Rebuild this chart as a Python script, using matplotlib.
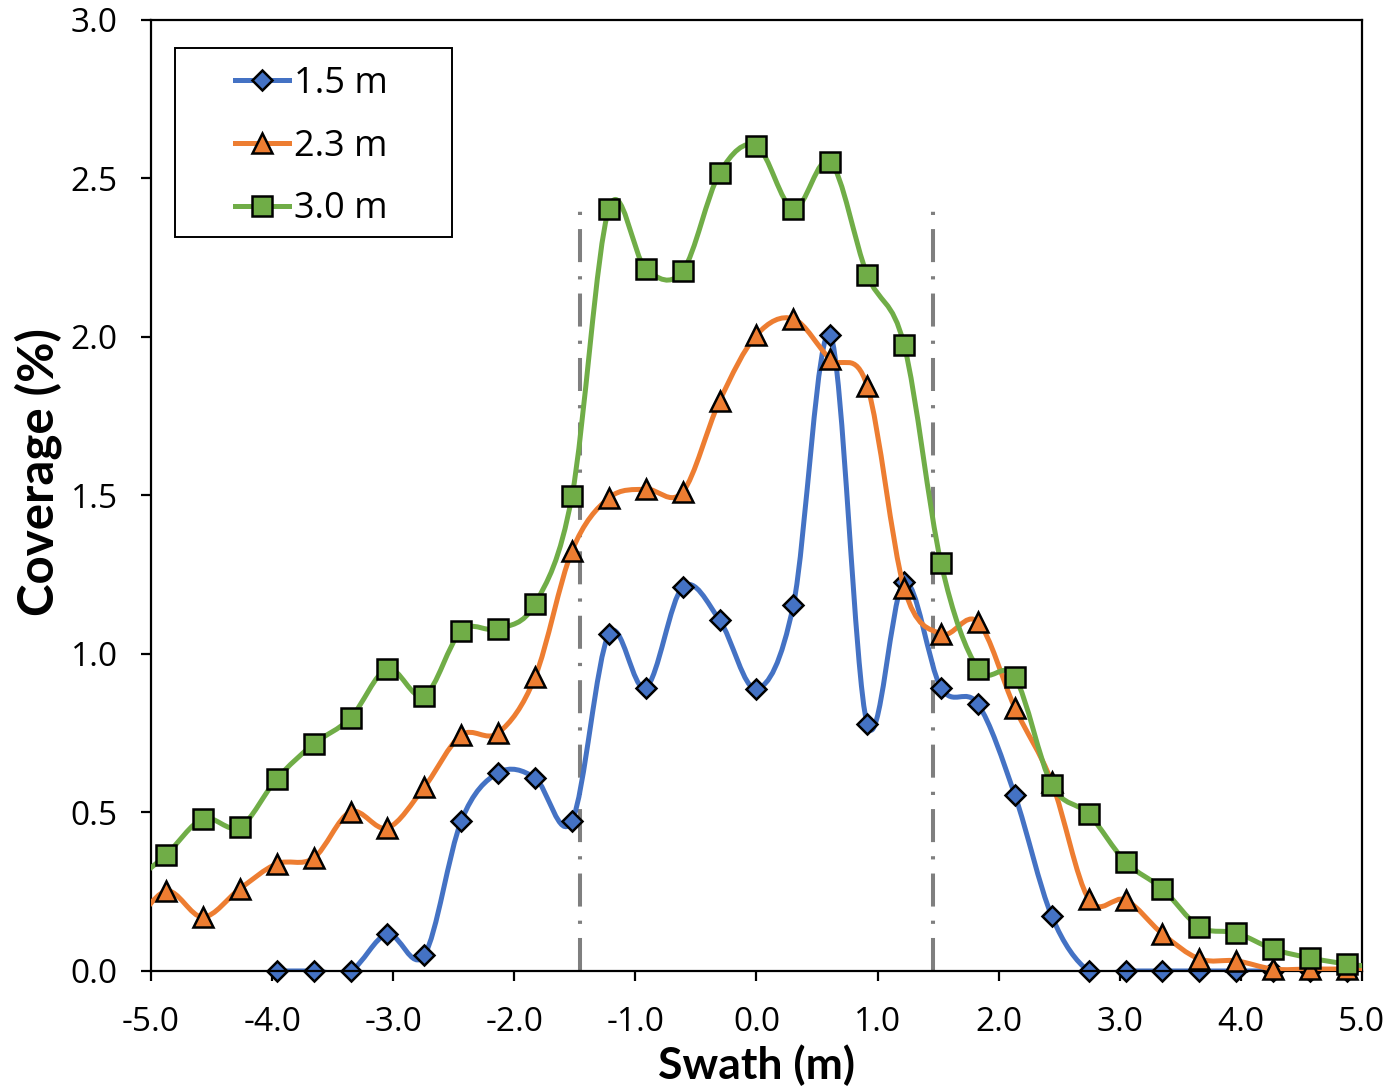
"""Coverage across the swath for three release heights."""
import numpy as np
import matplotlib
matplotlib.use("Agg")
import matplotlib.pyplot as plt
from matplotlib.path import Path
from matplotlib.patches import PathPatch, Rectangle
from matplotlib.lines import Line2D

# sampling stations, 1 ft apart (m); first and last lie just outside the plotted range
swath = np.arange(-17, 18) * 0.3048

cov_15 = [np.nan, np.nan, np.nan, np.nan, 0.0, 0.0, 0.0, 0.117, 0.05, 0.473, 0.625, 0.609,
          0.473, 1.063, 0.893, 1.211, 1.107, 0.89, 1.155, 2.006, 0.779, 1.227, 0.893,
          0.842, 0.555, 0.173, 0.0, 0.0, 0.0, 0.0, 0.0, 0.0, 0.0, 0.0, np.nan]
cov_23 = [0.12, 0.252, 0.170, 0.259, 0.338, 0.356, 0.502, 0.451, 0.580, 0.744, 0.751, 0.927,
          1.325, 1.492, 1.520, 1.511, 1.798, 2.006, 2.057, 1.930, 1.845, 1.208, 1.063,
          1.101, 0.830, 0.596, 0.227, 0.224, 0.117, 0.038, 0.032, 0.006, 0.006, 0.006, 0.005]
cov_30 = [0.27, 0.366, 0.480, 0.454, 0.606, 0.716, 0.798, 0.953, 0.868, 1.073, 1.079, 1.158,
          1.498, 2.404, 2.215, 2.208, 2.517, 2.603, 2.404, 2.552, 2.196, 1.975, 1.287,
          0.953, 0.927, 0.587, 0.495, 0.344, 0.259, 0.139, 0.120, 0.069, 0.041, 0.022, 0.010]

series = [
    ("1.5 m", cov_15, "#4472C4", "D", 10.5),
    ("2.3 m", cov_23, "#ED7D31", "^", 14),
    ("3.0 m", cov_30, "#70AD47", "s", 14),
]

boundary = [-1.46, 1.46]
boundary_top = 2.42

x_ticks = np.arange(-5, 5.5, 1.0)
y_ticks = np.arange(0, 3.01, 0.5)


def smooth_path(x, y):
    """Catmull-Rom curve through the points, as cubic Bezier segments."""
    pts = np.column_stack([x, y])
    n = len(pts)
    verts = [pts[0]]
    codes = [Path.MOVETO]
    for i in range(n - 1):
        p0 = pts[max(i - 1, 0)]
        p1 = pts[i]
        p2 = pts[i + 1]
        p3 = pts[min(i + 2, n - 1)]
        verts += [p1 + (p2 - p0) / 6, p2 - (p3 - p1) / 6, p2]
        codes += [Path.CURVE4] * 3
    return Path(verts, codes)


fig = plt.figure(figsize=(13.91, 10.90), dpi=100)
ax = fig.add_axes([0.1086, 0.1092, 0.8705, 0.8725])

for xb in boundary:
    ax.plot([xb, xb], [0, boundary_top], color="#7F7F7F", lw=2.9,
            dashes=(8.2, 3.5, 0.8, 3.5), zorder=1.5)

handles = []
for k, (label, vals, color, marker, ms) in enumerate(series):
    vals = np.asarray(vals, dtype=float)
    ok = ~np.isnan(vals)
    xs, ys = swath[ok], vals[ok]
    z = 2 + k
    ax.add_patch(PathPatch(smooth_path(xs, ys), fill=False, edgecolor=color, lw=3.6,
                           capstyle="round", joinstyle="round", zorder=z))
    inside = (xs >= -5) & (xs <= 5)
    ax.plot(xs[inside], ys[inside], linestyle="none", marker=marker, ms=ms,
            mfc=color, mec="black", mew=1.8, zorder=z + 0.5, clip_on=False)
    handles.append(Line2D([], [], color=color, lw=3.6, marker=marker, ms=ms,
                          mfc=color, mec="black", mew=1.8, label=label))

ax.set_xlim(-5, 5)
ax.set_ylim(0, 3)
ax.set_xticks(x_ticks)
ax.set_yticks(y_ticks)
ax.set_xticklabels([f"{v:.1f}" for v in x_ticks])
ax.set_yticklabels([f"{v:.1f}" for v in y_ticks])
ax.tick_params(direction="out", length=7, width=1.6, labelsize=24, pad=17,
               colors="black")
ax.tick_params(axis="x", pad=18)
for t in ax.get_xticklabels() + ax.get_yticklabels():
    t.set_family("Open Sans")
for s in ax.spines.values():
    s.set_linewidth(1.6)
    s.set_color("black")

ax.set_xlabel("Swath (m)", family="Lato", weight="bold", size=32, labelpad=4)
ax.set_ylabel("Coverage (%)", family="Lato", weight="bold", size=35.5, labelpad=6,
              y=0.5247)

# legend box, drawn separately so the entries can sit with a wide left margin
ax.add_patch(Rectangle((0.0198, 0.7718), 0.2287, 0.1988, transform=ax.transAxes,
                       facecolor="white", edgecolor="black", lw=1.4, zorder=6))
leg = ax.legend(handles=handles, loc="upper left", bbox_to_anchor=(0.0694, 0.9516),
                frameon=False, prop=dict(family="Open Sans", size=26),
                handlelength=1.49, handletextpad=0.14, labelspacing=0.74,
                borderpad=0, borderaxespad=0)
leg.set_zorder(7)

fig.savefig("out.png", dpi=100)
